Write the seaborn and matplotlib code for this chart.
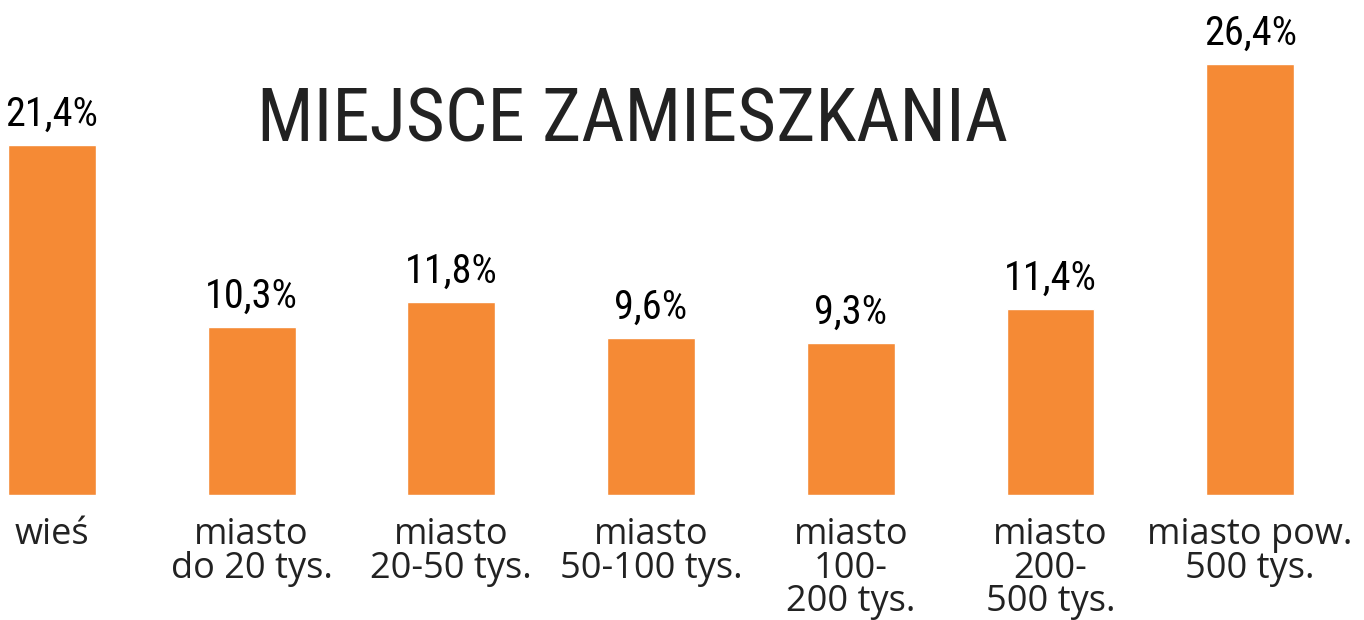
import matplotlib
matplotlib.use("Agg")
import matplotlib.pyplot as plt
import seaborn as sns
import pandas as pd

categories = ["wieś", "miasto\ndo 20 tys.", "miasto\n20-50 tys.", "miasto\n50-100 tys.",
              "miasto\n100-\n200 tys.", "miasto\n200-\n500 tys.", "miasto pow.\n500 tys."]
values = [21.4, 10.3, 11.8, 9.6, 9.3, 11.4, 26.4]
title = "MIEJSCE ZAMIESZKANIA"

orange = "#F58A35"
dark = "#222222"
narrow = ["Roboto Condensed", "DejaVu Sans"]

sns.set_theme(style="white")
plt.rcParams["font.family"] = ["Open Sans", "DejaVu Sans"]

df = pd.DataFrame({"cat": categories, "val": values})

fig = plt.figure(figsize=(13.64, 6.2), dpi=100)
ax = fig.add_axes([0, 1 - 495 / 620, 1, 495 / 620])
sns.barplot(data=df, x="cat", y="val", color=orange, width=0.44, saturation=1, ax=ax)

ax.set_xlim(-0.26, 6.57)
ax.set_ylim(0, 30.3)
ax.set_xlabel("")
ax.set_ylabel("")
ax.set_yticks([])
ax.tick_params(axis="x", length=0, pad=16)
ax.set_xticks(range(len(categories)))
ax.set_xticklabels(categories, fontsize=26, color=dark, linespacing=0.9)
for s in ax.spines.values():
    s.set_visible(False)

ax.bar_label(ax.containers[0], labels=[f"{v:.1f}%".replace(".", ",") for v in values],
             padding=8, fontsize=29, color="black", family=narrow, fontstretch="condensed")

fig.text(0.464, 1 - 142 / 620, title, ha="center", va="baseline", fontsize=54,
         color=dark, family=narrow, fontstretch="condensed")

fig.savefig("out.png", dpi=100)
